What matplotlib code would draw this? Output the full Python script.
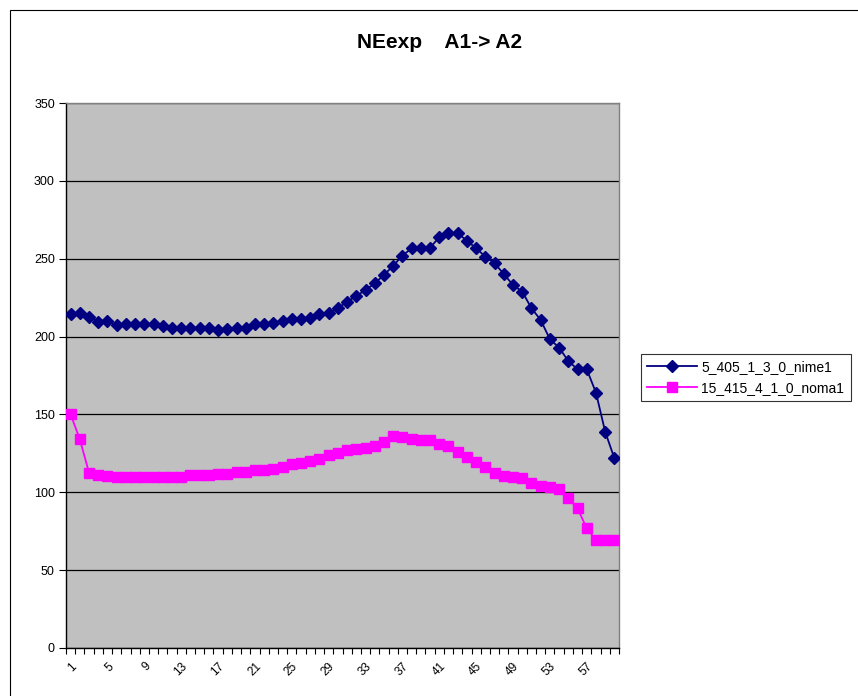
import matplotlib
matplotlib.use("Agg")
import matplotlib.pyplot as plt
from matplotlib.patches import Rectangle
import numpy as np

plt.rcParams['font.family'] = ['Liberation Sans', 'DejaVu Sans']

categories = list(range(1, 61))
series1_name = "5_405_1_3_0_nime1"
series1 = [214.3, 215.4, 212.4, 209.6, 210, 207.5, 207.9, 207.9, 207.9, 207.9,
           207, 205.7, 205.7, 205.7, 205.7, 205.7, 204.2, 204.7, 205.7, 205.7,
           207.9, 207.9, 208.9, 210, 211.1, 211.1, 212.2, 214.3, 215, 218.2,
           222.4, 226.1, 229.9, 234.2, 239.6, 245.5, 252, 256.7, 256.7, 257.1,
           263.8, 266.8, 266.3, 261.6, 256.7, 251.3, 247.1, 240.2, 233.1, 228.9,
           218.2, 210.7, 198.3, 192.9, 184.3, 179, 179, 164, 138.9, 121.8]
series2_name = "15_415_4_1_0_noma1"
series2 = [150.1, 134, 112.6, 111.1, 110.5, 110, 110, 110, 110, 110,
           110, 110, 110, 111, 111, 111, 112, 112, 113, 113,
           114, 114, 115, 116, 118, 119, 120, 121.5, 124, 125.5,
           127, 128, 128.5, 130, 132, 136.4, 135.7, 134, 133.6, 133.6,
           130.8, 129.7, 126.1, 122.9, 119.7, 116.5, 112.6, 110.5, 109.6, 109,
           105.8, 104, 103.2, 101.9, 96.1, 89.7, 76.9, 69.4, 69.4, 69.4]
x_tick_labels = [str(v) for v in range(1, 61, 4)]
y_ticks = [0, 50, 100, 150, 200, 250, 300, 350]
title = "NEexp    A1-> A2"

W, H = 858, 696
fig = plt.figure(figsize=(W / 100, H / 100), dpi=100)
fig.patch.set_facecolor('white')

# outer chart border (extends beyond right/bottom edges as in the reference)
fig.patches.append(Rectangle((10 / W, -0.1), 1.0, (H - 10) / H + 0.1,
                             transform=fig.transFigure, fill=False,
                             edgecolor='black', linewidth=0.8))

left, right, top, bottom = 66, 619, 103, 648
ax = fig.add_axes([left / W, 1 - bottom / H, (right - left) / W, (bottom - top) / H])
ax.set_facecolor('#C0C0C0')

x = np.arange(1, len(categories) + 1)
ax.plot(x, series1, color='#000080', marker='D', markersize=6.5, linewidth=1.3,
        label=series1_name, zorder=3)
ax.plot(x, series2, color='#FF00FF', marker='s', markersize=6.5, linewidth=1.3,
        label=series2_name, zorder=3)

ax.set_xlim(0.5, len(categories) + 0.5)
ax.set_ylim(0, 350)
ax.set_yticks(y_ticks)
ax.yaxis.grid(True, color='black', linewidth=0.9)
ax.set_axisbelow(True)
ax.tick_params(axis='y', direction='out', length=5, width=0.8, labelsize=9, pad=3)

label_pos = [int(s) for s in x_tick_labels]
ax.set_xticks(label_pos)
ax.set_xticklabels(x_tick_labels, rotation=45, ha='right', rotation_mode='anchor', fontsize=8.5)
ax.set_xticks(np.arange(0.5, len(categories) + 1, 1), minor=True)
ax.tick_params(axis='x', which='major', length=0, pad=9)
ax.tick_params(axis='x', which='minor', direction='out', length=4, width=0.8)

for s in ['left', 'bottom']:
    ax.spines[s].set_color('black')
    ax.spines[s].set_linewidth(1.0)
for s in ['right', 'top']:
    ax.spines[s].set_color('#808080')
    ax.spines[s].set_linewidth(1.0)

fig.text(440 / W, 1 - 42 / H, title, ha='center', va='center', fontsize=15, fontweight='bold')

leg = fig.legend(loc='upper left', bbox_to_anchor=(641 / W, 1 - 354 / H), frameon=True,
                 fancybox=False, edgecolor='black', fontsize=10, handlelength=3.6,
                 borderpad=0.45, labelspacing=0.5, handletextpad=0.3, borderaxespad=0)
leg.get_frame().set_linewidth(0.8)

fig.savefig('out.png', dpi=100)
